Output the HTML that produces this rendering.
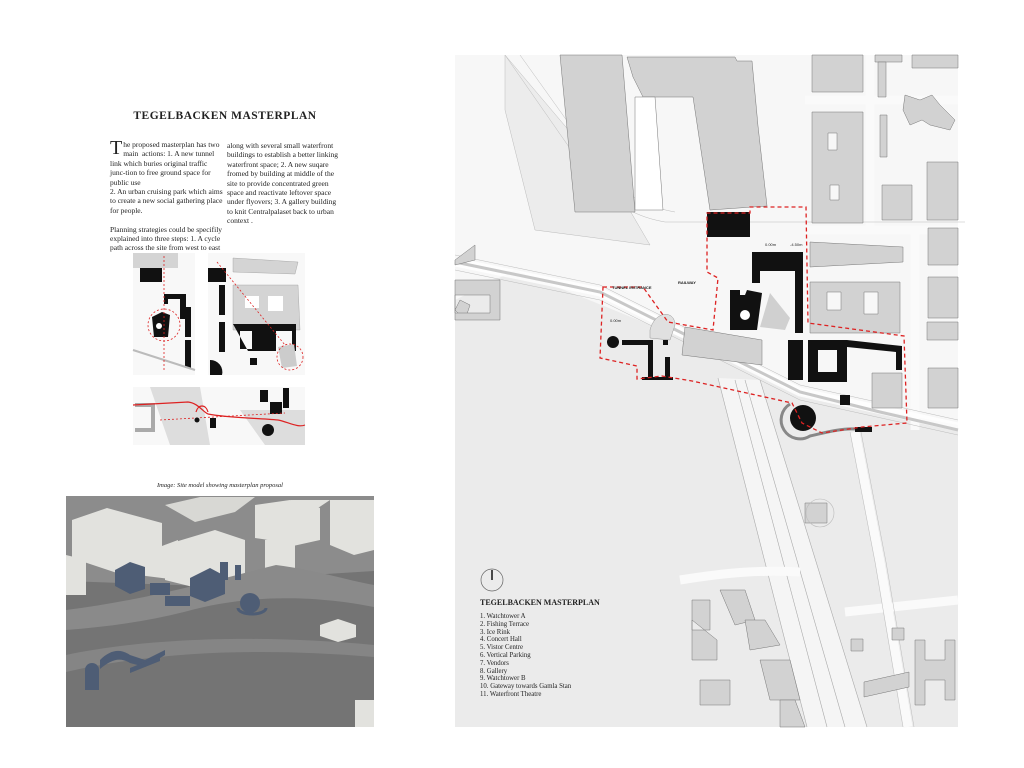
<!DOCTYPE html>
<html><head><meta charset="utf-8"><style>
html,body{margin:0;padding:0;background:#fff;width:1024px;height:768px;overflow:hidden}
.t{position:absolute;font-family:"Liberation Serif",serif;color:#222}
</style></head><body>
<div class="t" style="left:100px;top:110px;width:250px;text-align:center;font-size:11.5px;font-weight:bold;letter-spacing:0.5px">TEGELBACKEN MASTERPLAN</div>
<div class="t" style="left:110px;top:140px;width:113px;font-size:7.5px;line-height:9.4px"><span style="font-size:20px;float:left;line-height:16px;margin-right:1px">T</span>he proposed masterplan has two main &nbsp;actions: 1. A new tunnel link which buries original traffic junc-tion to free ground space for public use<br>2. An urban cruising park which aims to create a new social gathering place for people.<br><br>Planning strategies could be specifily explained into three steps: 1. A cycle path across the site from west to east</div>
<div class="t" style="left:227px;top:141px;width:112px;font-size:7.5px;line-height:9.4px">along with several small waterfront buildings to establish a better linking waterfront space; 2. A new suqare fromed by building at middle of the site to provide concentrated green space and reactivate leftover space under flyovers; 3. A gallery building to knit Centralpalaset back to urban context .</div>
<div class="t" style="left:66px;top:482px;width:308px;text-align:center;font-size:6.5px;font-style:italic">Image: Site model showing masterplan proposal</div>

<svg style="position:absolute;left:0;top:0" width="1024" height="768">
<!-- small diagrams -->
<g>
<rect x="133" y="253" width="62" height="122" fill="#f8f8f8"/>
<rect x="133" y="253" width="45" height="15" fill="#d4d4d4"/>
<rect x="140" y="268" width="22" height="14" fill="#111"/>
<path d="M164,294h22v25h-6v-20h-12v5h-4z" fill="#111"/>
<path d="M152,317l10,-5l8,3l-2,22h-14z" fill="#111"/><circle cx="159" cy="326" r="3" fill="#fff"/>
<rect x="185" y="307" width="6" height="30" fill="#111"/><rect x="185" y="340" width="6" height="28" fill="#111"/>
<path d="M133,350l62,20" stroke="#bbb" stroke-width="2"/>
<circle cx="164" cy="325" r="16" fill="none" stroke="#d22" stroke-width="0.8" stroke-dasharray="2,2"/>
<line x1="164" y1="256" x2="164" y2="370" stroke="#d22" stroke-width="0.8" stroke-dasharray="2,2"/>
<rect x="208" y="253" width="97" height="122" fill="#f8f8f8"/>
<path d="M233,258l65,4l-3,12l-62,-2z" fill="#d4d4d4" stroke="#999" stroke-width=".4"/>
<path d="M233,285l65,0l2,45l-67,0z" fill="#d4d4d4" stroke="#999" stroke-width=".4"/>
<rect x="245" y="296" width="14" height="12" fill="#fff"/><rect x="268" y="296" width="15" height="15" fill="#fff"/>
<rect x="208" y="268" width="18" height="14" fill="#111"/><rect x="219" y="285" width="6" height="30" fill="#111"/>
<rect x="219" y="322" width="6" height="30" fill="#111"/>
<path d="M233,324h63v27h-4v-20h-16v20h-28z M240,331v18h12v-18z" fill="#111" fill-rule="evenodd"/>
<path d="M278,347l16,-3l3,22l-15,2z" fill="#ccc"/><rect x="250" y="358" width="7" height="7" fill="#111"/>
<circle cx="290" cy="357" r="13" fill="none" stroke="#d22" stroke-width="0.8" stroke-dasharray="2,2"/>
<line x1="217" y1="262" x2="285" y2="345" stroke="#d22" stroke-width="0.8" stroke-dasharray="2,2"/>
<path d="M210,360a12,12 0 0,1 12,15h-12z" fill="#111"/>
<rect x="133" y="387" width="172" height="58" fill="#f8f8f8"/>
<path d="M150,387l50,0l10,58l-40,0z" fill="#ddd"/><path d="M240,410l65,0l0,35l-40,0z" fill="#ddd"/>
<path d="M135,405h18v25h-18" fill="none" stroke="#aaa" stroke-width="4"/>
<path d="M260,390h8v12h-8zM283,388h6v20h-6z" fill="#111"/><rect x="270" y="402" width="12" height="12" fill="#111"/>
<circle cx="268" cy="430" r="6" fill="#111"/>
<path d="M133,405l55,-3c10,1 15,10 20,12c20,4 50,4 70,6c10,2 20,8 27,5" fill="none" stroke="#d22" stroke-width="1.2"/>
<path d="M196,412c2,-8 10,-8 12,0" fill="none" stroke="#d22" stroke-width="1.2"/>
<line x1="160" y1="420" x2="285" y2="413" stroke="#d22" stroke-width="0.8" stroke-dasharray="2,2"/>
<circle cx="197" cy="420" r="2.5" fill="#111"/><path d="M210,418h6v10h-6z" fill="#111"/>
</g>
<!-- photo -->
<rect x="66" y="496" width="308" height="231" fill="#747474"/>
<path d="M66,496h308v75l-80,5l-90,10l-138,-5z" fill="#8c8c8c"/>
<g fill="#e2e2de">
<path d="M72,520l35,-12l55,15v40l-45,10l-45,-15z"/>
<path d="M165,505l35,-8h55l-20,15l-40,10z" fill="#d8d8d4"/>
<path d="M138,555l40,-15v40l-40,-5z"/>
<path d="M165,545l50,-15l30,10v40l-40,10l-40,-10z"/>
<path d="M255,505l35,-5l30,8v25l-30,10l-35,-5z"/>
<path d="M265,540l30,-5v35l-30,5z"/>
<path d="M275,525l45,-10v25l-45,10z"/>
<path d="M330,500h44v50l-20,5l-24,-10z"/>
<path d="M290,500h40l-15,10z"/>
<path d="M66,555l20,5v35h-20z"/>
<path d="M320,625l18,-6l18,6v12l-18,5l-18,-6z"/>
<path d="M355,700h19v27h-19z"/>
</g>
<path d="M66,610c80,-10 150,-30 210,-45c40,5 70,15 98,20v22c-50,-10 -120,-15 -190,5c-40,10 -80,15 -118,18z" fill="#8a8a8a"/>
<path d="M66,655c70,-15 180,-22 308,-10v12c-120,-10 -220,-5 -308,15z" fill="#858585"/>
<g fill="#4e5d75"><path d="M115,570l15,-8l15,5v22l-15,5l-15,-8z"/><rect x="150" y="583" width="20" height="12"/><path d="M190,578l20,-10l15,8v18l-20,8l-15,-6z"/><rect x="165" y="596" width="25" height="10"/><rect x="220" y="562" width="8" height="18"/><rect x="235" y="565" width="6" height="15"/><circle cx="250" cy="603" r="10"/><path d="M238,608a14,6 0 0,0 28,0" fill="none" stroke="#4e5d75" stroke-width="3"/><circle cx="92" cy="670" r="7"/><rect x="85" y="670" width="14" height="20"/><path d="M100,660c10,-10 20,-12 30,-5l15,5l20,-10v5l-20,12l-15,-4c-10,-6 -18,-4 -30,6z"/><path d="M130,668l30,-12v5l-30,12z"/></g>
<!-- map -->
<rect x="455" y="55" width="503" height="672" fill="#f7f7f7"/>
<path d="M455,300l60,-30l185,75l100,50l158,30v302h-503z" fill="#ebebeb"/>
<path d="M505,55l110,130l35,60l-115,-15l-30,-120z" fill="#ececec" stroke="#bbb" stroke-width=".5"/>
<path d="M718,378l42,2l107,347h-60z" fill="#f5f5f5"/>
<g fill="none" stroke="#aaa" stroke-width=".6">
<path d="M718,378l89,349"/><path d="M760,380l107,347"/><path d="M735,380l92,347"/><path d="M745,380l100,347"/>
</g>
<g fill="none" stroke="#fafafa" stroke-width="9">
<path d="M855,432l25,130l28,165"/>
<path d="M845,612l113,-12"/>
<path d="M870,55v175"/><path d="M805,100h153"/><path d="M805,230h153"/><path d="M915,230v200"/>
<path d="M680,580c50,-8 80,-10 120,-8"/>
</g>
<g fill="none" stroke="#bbb" stroke-width=".5">
<path d="M850,432l25,130l28,165"/><path d="M861,432l25,130l28,165"/>
<path d="M505,55l80,115c20,25 40,45 80,52h300"/><path d="M520,55l75,105c20,25 40,45 80,52"/>
<path d="M455,255l145,30l100,50l100,50l158,35"/><path d="M455,270l145,30l100,50l100,50l158,35"/>
</g>
<path d="M455,262l145,30l100,50l100,50l158,35" fill="none" stroke="#fff" stroke-width="9" opacity=".8"/>
<path d="M455,262l145,30l100,50l100,50l80,20l78,18" fill="none" stroke="#c8c8c8" stroke-width="3"/>
<g fill="#d2d2d2" stroke="#777" stroke-width=".5">
<path d="M560,55h62l13,157h-60z"/>
<path d="M627,57h108l2,4h15l6,65l9,80l-57,4l-17,-113h-50l-10,-20z"/>
<path d="M635,97h20l8,113h-28z" fill="#fff"/>
<path d="M812,55h51v37h-51z"/><path d="M875,55h27v7h-27z"/><path d="M912,55h46v13h-46z"/><path d="M878,62h8v35h-8z"/>
<path d="M812,112h51v111h-51z M828,133v17h9v-17z M830,185v15h9v-15z" fill-rule="evenodd"/>
<path d="M882,185h30v35h-30z"/><path d="M927,162h31v58h-31z"/><path d="M880,115h7v42h-7z"/>
<path d="M905,95l15,5l12,-5l8,10l15,15l-5,10l-20,-5l-8,-5l-12,5l-7,-15z"/>
<path d="M810,242l93,5v15l-93,5z"/>
<path d="M810,282h90v51h-90z M827,292v18h14v-18z M864,292v22h14v-22z" fill-rule="evenodd"/>
<path d="M928,228h30v37h-30z"/><path d="M928,277h30v41h-30z"/><path d="M927,322h31v18h-31z"/><path d="M928,368h30v40h-30z"/>
<path d="M872,373h30v35h-30z"/>
<path d="M455,265v-5l20,-15v15z"/><path d="M455,310l5,-10l10,5l-5,15z"/>
<path d="M455,280h45v40h-45z M455,295v18h35v-18z" fill-rule="evenodd"/>
<path d="M685,327l77,13l0,25l-80,-10z"/>
<path d="M805,503h22v20h-22z"/>
<path d="M692,600h18v30h-18z M692,620v40h25v-20z"/><path d="M720,590h25l10,30l-20,5z"/><path d="M745,620h20l15,25l-30,5z"/>
<path d="M700,680h30v25h-30z"/><path d="M760,660h30l10,40h-30z"/><path d="M780,700h15l10,27h-25z"/>
<path d="M851,639h12v12h-12z"/><path d="M892,628h12v12h-12z"/><path d="M864,682l45,-10v15l-45,10z"/>
<path d="M915,640h10v20h20v-20h10v60h-10v-20h-20v25h-10z"/>
</g>
<circle cx="820" cy="513" r="14" fill="none" stroke="#bbb" stroke-width=".6"/>
<g fill="#111">
<rect x="707" y="212" width="43" height="25"/>
<path d="M752,252h51v31h-8v-12h-35v12h-8z"/>
<rect x="795" y="283" width="8" height="50"/>
<path d="M730,290h10v5h5l2,-5l15,3l-5,37h-27z"/>
<rect x="788" y="340" width="15" height="40"/>
<path d="M808,340h39v42h-39z M818,350v22h19v-22z" fill-rule="evenodd"/>
<path d="M847,340l55,6v24h-6v-18l-49,-5z"/>
<circle cx="803" cy="418" r="13"/>
<rect x="840" y="395" width="10" height="10"/>
<rect x="855" y="427" width="17" height="5"/>
<circle cx="613" cy="342" r="6"/>
<path d="M622,340h31v37h-5v-32h-26z"/><rect x="665" y="357" width="5" height="20"/><rect x="642" y="377" width="31" height="3"/>
<rect x="663" y="340" width="5" height="5"/>
</g>
<circle cx="745" cy="315" r="5" fill="#fff"/>
<path d="M790,404a17,17 0 0,0 20,32c10,-2 30,-8 45,-7" fill="none" stroke="#888" stroke-width="3"/>
<path d="M650,330c5,-20 25,-20 25,-5l-5,15l-20,-2z" fill="#e0e0e0" stroke="#999" stroke-width=".5"/>
<path d="M770,293l20,25l-5,12l-25,-3z" fill="#d0d0d0"/>
<path d="M603,287l40,0l25,35l45,8l5,-52l-11,-6v-59h43v-6l56,0l2,116l96,13l3,87l-45,4l-40,6l-20,-10l-10,-20l-100,-22l-30,-5l-25,3l0,-13l-37,-8z" fill="none" stroke="#d22" stroke-width="1.3" stroke-dasharray="4,3"/>
<g font-family="Liberation Sans,sans-serif" font-size="4px" font-weight="bold" fill="#222">
<text x="612" y="289">TUNNEL ENTRANCE</text><text x="678" y="284">RAILWAY</text>
<text x="765" y="246" font-weight="normal">0.00m</text><text x="790" y="246" font-weight="normal">-4.50m</text>
<text x="610" y="322" font-weight="normal">0.00m</text>
</g>
<circle cx="492" cy="580" r="11" fill="none" stroke="#666" stroke-width=".7"/>
<line x1="492" y1="570" x2="492" y2="580" stroke="#111" stroke-width="1.5"/>
</svg>
<div class="t" style="left:480px;top:598px;font-size:8px;font-weight:bold">TEGELBACKEN MASTERPLAN</div>
<div class="t" style="left:480px;top:613px;font-size:6.8px;line-height:7.8px">1. Watchtower A<br>2. Fishing Terrace<br>3. Ice Rink<br>4. Concert Hall<br>5. Vistor Centre<br>6. Vertical Parking<br>7. Vendors<br>8. Gallery<br>9. Watchtower B<br>10. Gateway towards Gamla Stan<br>11. Waterfront Theatre</div>
</body></html>
